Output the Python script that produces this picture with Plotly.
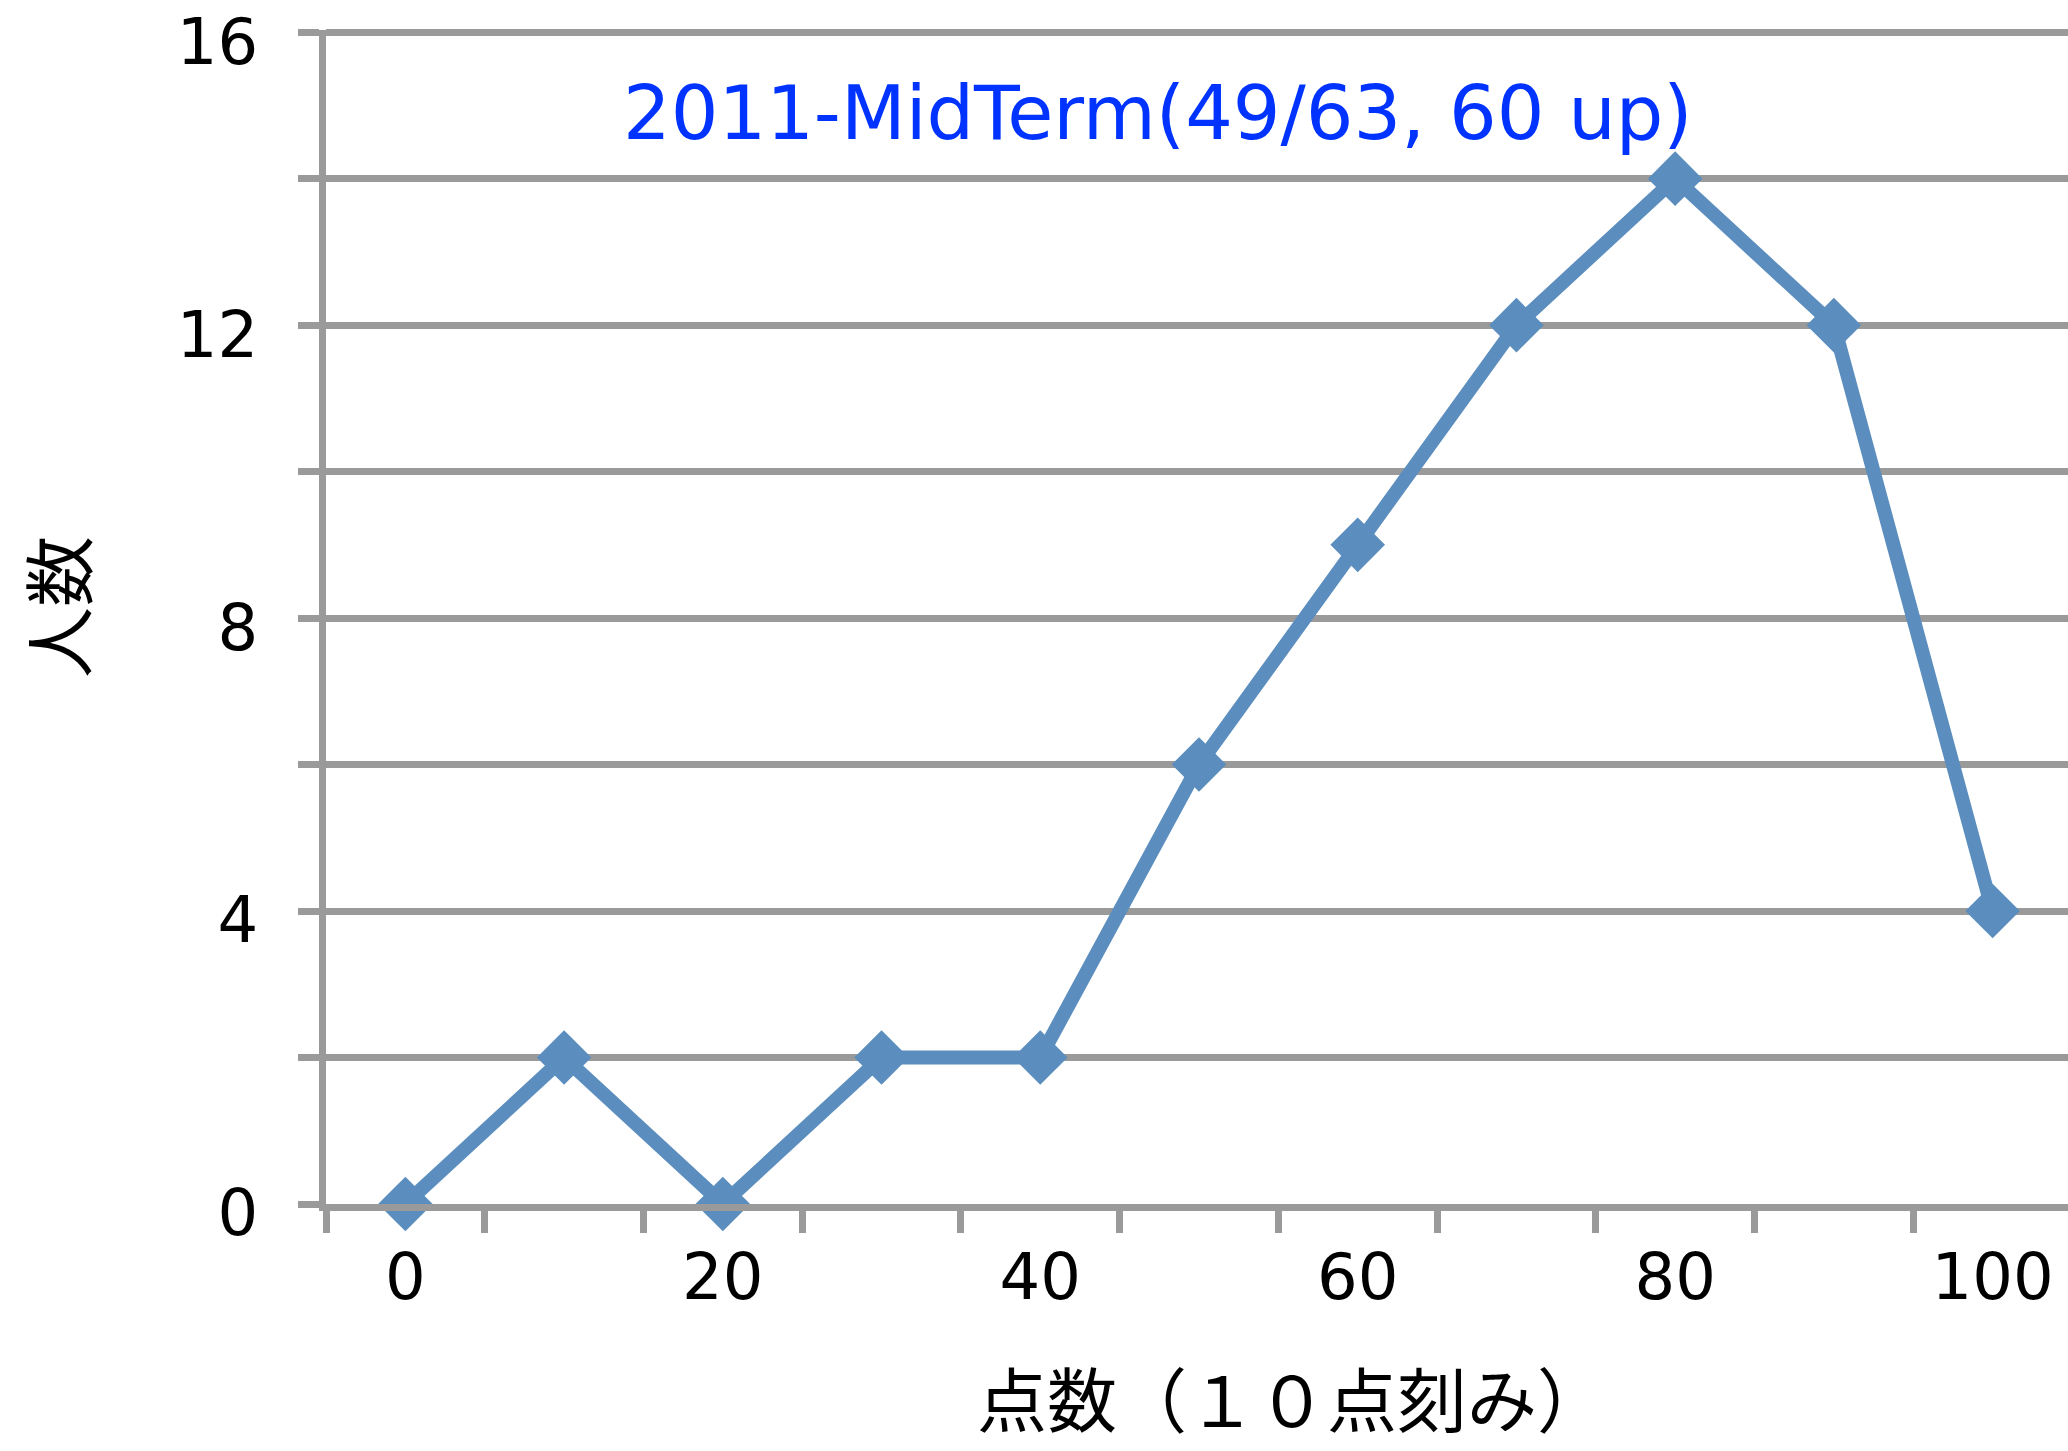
import plotly.graph_objects as go

# ---- data ----
scores = [0, 10, 20, 30, 40, 50, 60, 70, 80, 90, 100]
counts = [0, 2, 0, 2, 2, 6, 9, 12, 14, 12, 4]
x_tick_vals = [0, 20, 40, 60, 80, 100]
x_tick_text = ["0", "20", "40", "60", "80", "100"]
y_tick_vals = [0, 4, 8, 12, 16]
y_tick_text = ["0", "4", "8", "12", "16"]
title_text = "2011-MidTerm(49/63, 60 up)"
x_title = "点数（１０点刻み）"
y_title = "人数"

W, H = 2068, 1451
YMAX = 16.03
L, R, T, B = 326, 0, 30, 247
PW, PH = W - L - R, H - T - B

def px(xp):
    return (xp - L) / PW

def py(yp):
    return (H - B - yp) / PH

LATIN = "DejaVu Sans, Noto Sans, sans-serif"
CJK = "Noto Sans CJK JP, Noto Sans, sans-serif"
GRID = "#9a9a9a"
LINE = "#5b8ebe"
GW = 7

fig = go.Figure()
fig.add_trace(go.Scatter(
    x=scores, y=counts, mode="lines+markers",
    line=dict(color=LINE, width=14),
    marker=dict(symbol="diamond", size=42, color=LINE),
    cliponaxis=False, showlegend=False,
))

fig.update_layout(
    width=W, height=H,
    margin=dict(l=L, r=R, t=T, b=B, pad=0),
    paper_bgcolor="white", plot_bgcolor="white",
    font=dict(family=LATIN, color="black", size=64),
    xaxis=dict(
        range=[-5, 104.75], tickmode="array",
        tickvals=x_tick_vals, ticktext=x_tick_text,
        ticks="outside", ticklen=0, tickwidth=0,
        ticklabelstandoff=11, ticklabeloverflow="allow",
        showgrid=False, zeroline=False, automargin=False,
        showline=True, linecolor=GRID, linewidth=GW,
        tickfont=dict(size=64, family=LATIN),
        minor=dict(tick0=-5, dtick=10, ticks="outside", ticklen=22,
                   tickwidth=GW, tickcolor=GRID, showgrid=False),
    ),
    yaxis=dict(
        range=[0, YMAX], tickmode="array",
        tickvals=y_tick_vals, ticktext=y_tick_text,
        ticks="outside", ticklen=21, tickwidth=GW, tickcolor=GRID,
        ticklabelstandoff=27, ticklabelshift=9, ticklabeloverflow="allow",
        showgrid=True, gridcolor=GRID, gridwidth=GW,
        zeroline=False, automargin=False,
        showline=True, linecolor=GRID, linewidth=GW,
        tickfont=dict(size=64, family=LATIN),
        minor=dict(tick0=0, dtick=2, ticks="outside", ticklen=21,
                   tickwidth=GW, tickcolor=GRID, showgrid=True,
                   gridcolor=GRID, gridwidth=GW),
    ),
    annotations=[
        dict(text=title_text, xref="paper", yref="paper",
             x=px(1158), y=py(113), xanchor="center", yanchor="middle",
             showarrow=False, font=dict(size=75, color="#0033ff", family=LATIN)),
        dict(text=x_title, xref="paper", yref="paper",
             x=px(1292), y=py(1396), xanchor="center", yanchor="middle",
             showarrow=False, font=dict(size=70, color="black", family=CJK)),
        dict(text=y_title, xref="paper", yref="paper",
             x=px(55), y=py(607), xanchor="center", yanchor="middle",
             textangle=-90, showarrow=False,
             font=dict(size=71, color="black", family=CJK)),
    ],
)

fig.write_html("out.html")
